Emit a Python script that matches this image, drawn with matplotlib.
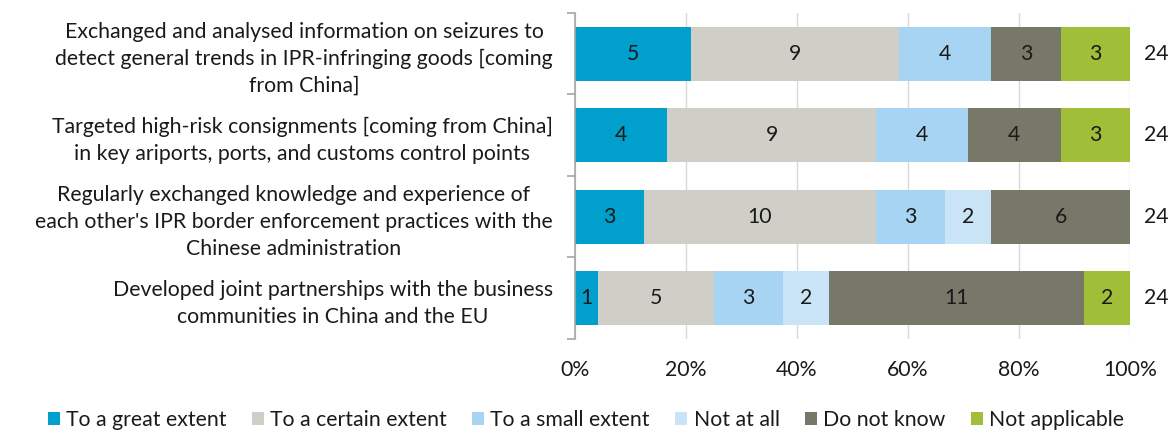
import numpy as np
import matplotlib.pyplot as plt
from matplotlib.ticker import PercentFormatter

plt.rcParams['font.family'] = ['Lato', 'DejaVu Sans']

# Survey answers per activity
activites = [
    "Exchanged and analysed information on seizures to\ndetect general trends in IPR-infringing goods [coming\nfrom China]",
    "Targeted high-risk consignments [coming from China]\nin key ariports, ports, and customs control points",
    "Regularly exchanged knowledge and experience of\neach other's IPR border enforcement practices with the\nChinese administration",
    "Developed joint partnerships with the business\ncommunities in China and the EU",
]
reponses = ["To a great extent", "To a certain extent", "To a small extent",
            "Not at all", "Do not know", "Not applicable"]
great = [5, 4, 3, 1]
certain = [9, 9, 10, 5]
small = [4, 4, 3, 3]
not_at_all = [0, 0, 2, 2]
dont_know = [3, 4, 6, 11]
not_applicable = [3, 3, 0, 2]

couleurs = ["#009fcc", "#cfcfc7", "#a8d4f4", "#c9e3f7", "#787868", "#a0be37"]

series = np.array([great, certain, small, not_at_all, dont_know, not_applicable], dtype=float)
totaux = series.sum(axis=0)
parts = series / totaux * 100

taille = 15.3

fig = plt.figure(figsize=(11.72, 4.36), dpi=100)
ax = fig.add_axes([0.4906, 0.2225, 0.4736, 0.7477])

y = np.arange(len(activites))
gauche = np.zeros(len(activites))
for i, nom in enumerate(reponses):
    ax.barh(y, parts[i], left=gauche, height=0.66, color=couleurs[i],
            label=nom, zorder=2)
    for j in range(len(activites)):
        if series[i, j] > 0:
            ax.text(gauche[j] + parts[i, j] / 2, y[j], f"{int(series[i, j])}",
                    ha='center', va='center', fontsize=taille, color='#1a1a1a', zorder=3)
    gauche += parts[i]

# totals on the right of each bar
for j in range(len(activites)):
    ax.text(102.6, y[j], f"{int(totaux[j])}", ha='left', va='center',
            fontsize=taille, color='#1a1a1a')

ax.set_xlim(0, 100)
ax.set_ylim(3.5, -0.5)
ax.set_xticks(np.arange(0, 101, 20))
ax.xaxis.set_major_formatter(PercentFormatter(decimals=0))
ax.set_yticks(y)
ax.set_yticklabels(activites, fontsize=taille, color='#1a1a1a', linespacing=1.42)
for t in ax.get_yticklabels():
    t.set_multialignment('center')
ax.set_yticks(np.arange(-0.5, 4.0, 1), minor=True)
ax.tick_params(axis='y', which='major', length=0, pad=16)
ax.tick_params(axis='y', which='minor', length=6, color='#a6a6a6', width=1.2)
ax.tick_params(axis='x', length=0, labelsize=taille, labelcolor='#1a1a1a', pad=15)

ax.grid(axis='x', color='#d9d9d9', linewidth=1, zorder=0)
for cote in ['top', 'right', 'bottom']:
    ax.spines[cote].set_visible(False)
ax.spines['left'].set_color('#a6a6a6')
ax.spines['left'].set_linewidth(1.2)

fig.legend(loc='lower center', bbox_to_anchor=(0.5, -0.03), ncol=6, frameon=False,
           fontsize=taille, handlelength=0.55, handleheight=0.55, handletextpad=0.3,
           columnspacing=1.2, labelcolor='#1a1a1a')

fig.savefig("out.png", dpi=100)
